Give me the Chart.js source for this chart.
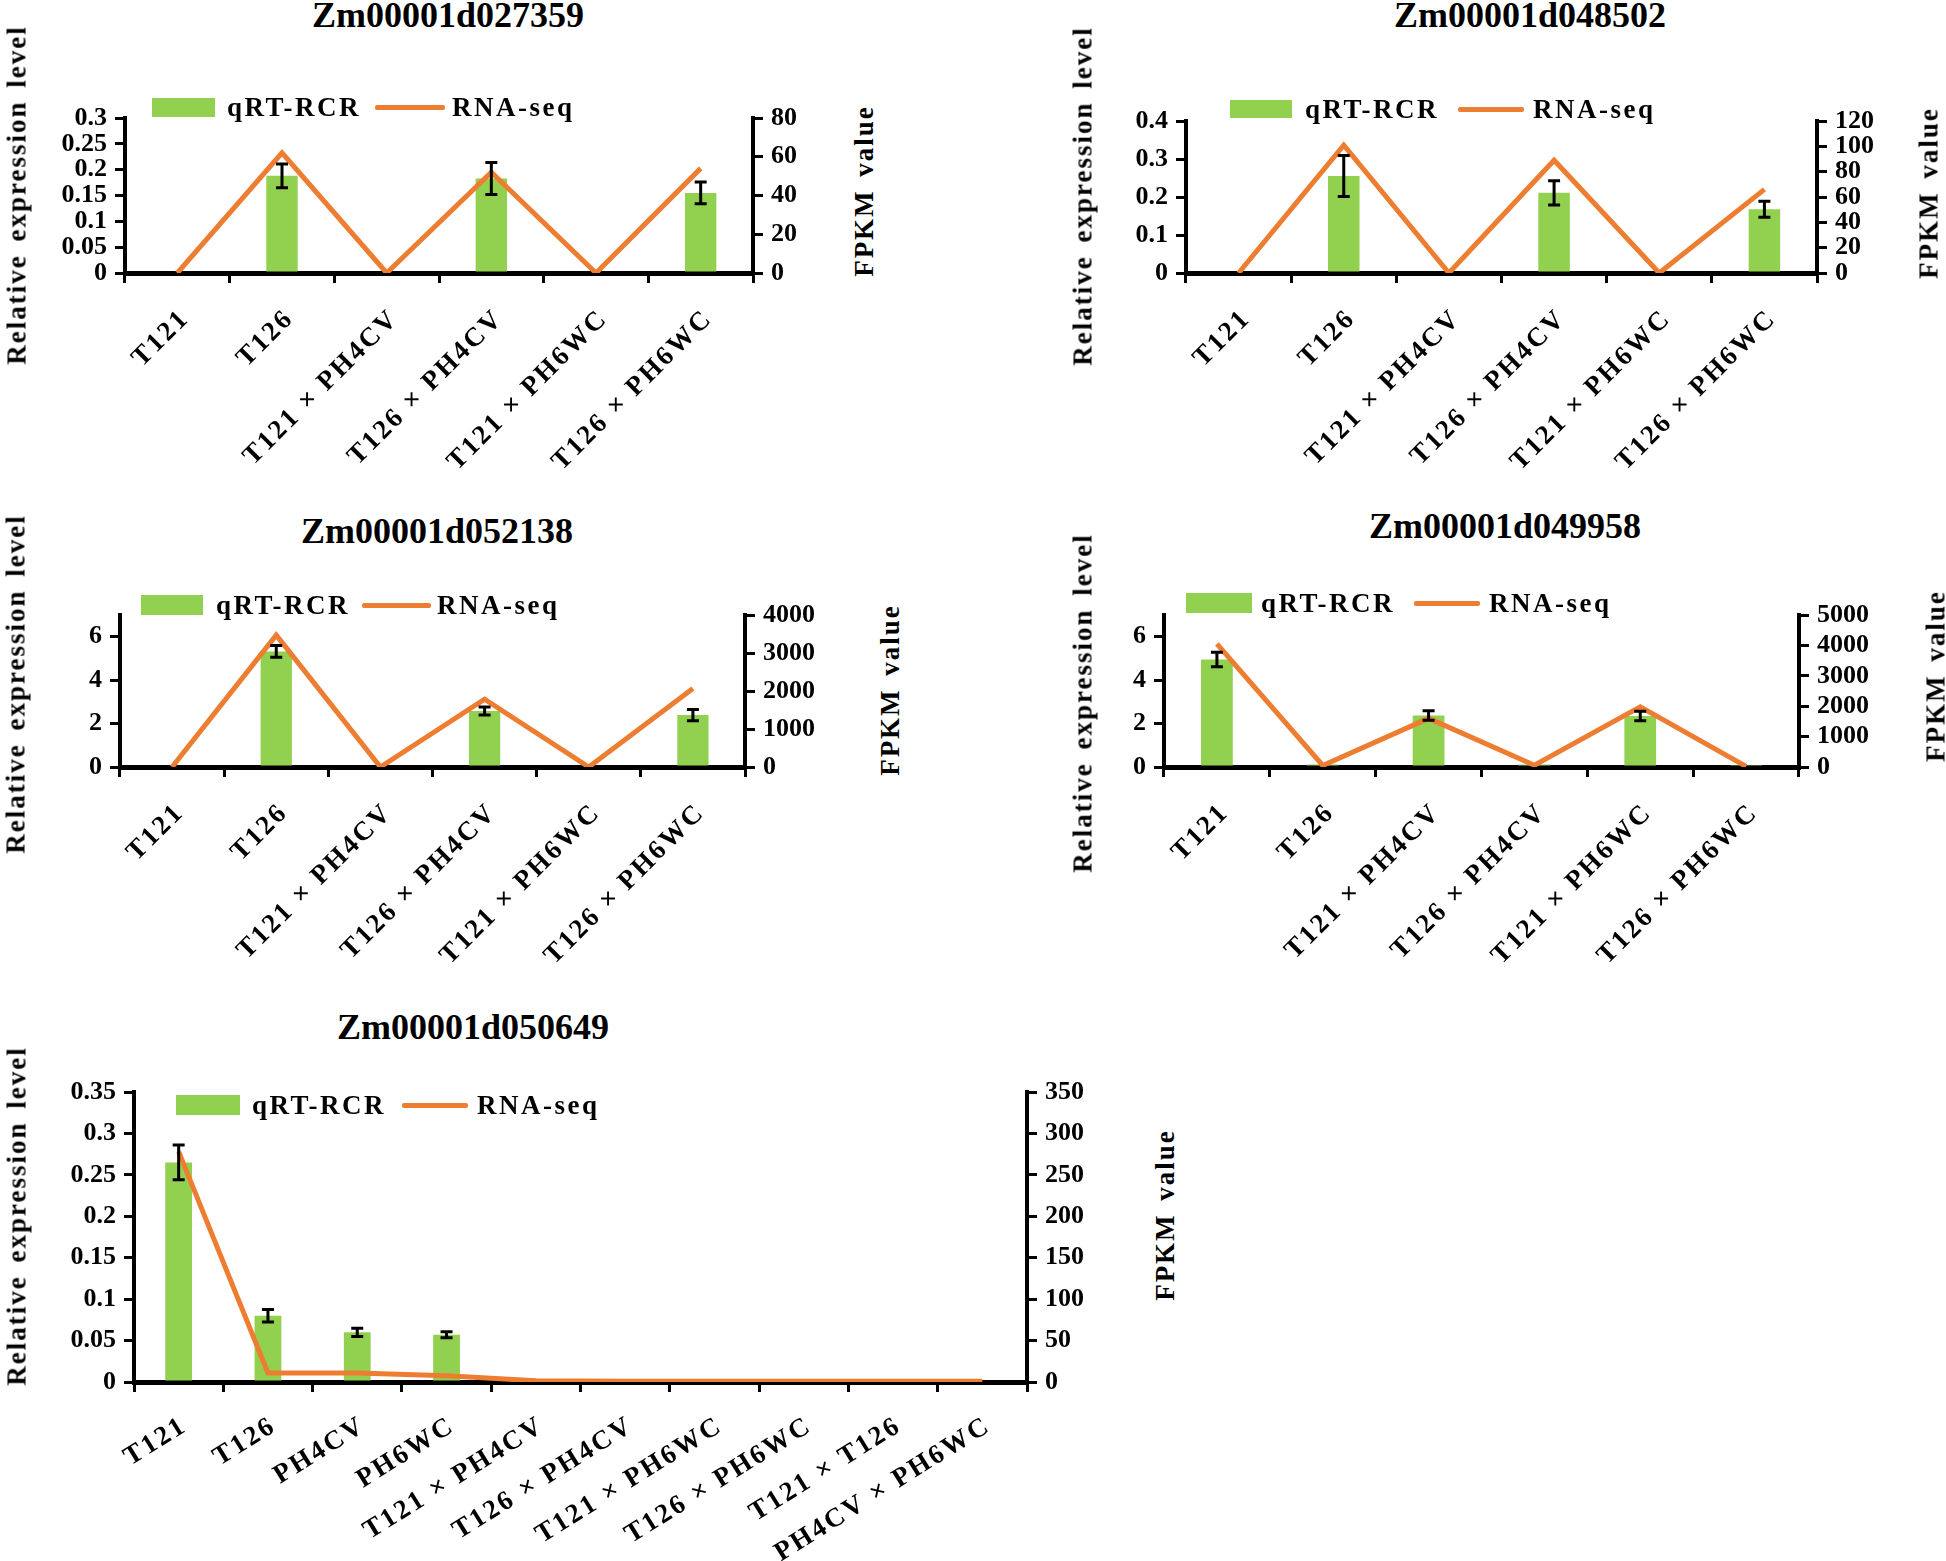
<!DOCTYPE html>
<html>
<head>
<meta charset="utf-8">
<title>qRT-PCR vs RNA-seq</title>
<script src="https://cdn.jsdelivr.net/npm/chart.js@4.4.1/dist/chart.umd.min.js"></script>
<style>
    html, body { margin: 0; padding: 0; background: #fff; }
    #page { position: relative; width: 1946px; height: 1561px; overflow: hidden; font-family: 'Liberation Serif', 'Times New Roman', serif; color: #000; }
    #page canvas { position: absolute; }
    .txt { position: absolute; white-space: nowrap; font-weight: bold; line-height: 1; }
    .title { font-size: 36px; transform: translate(-50%, -50%); }
    .ytitle { font-size: 27px; letter-spacing: 2px; word-spacing: 4px; transform: translate(-50%, -50%) rotate(-90deg); }
    .leg { font-size: 27px; letter-spacing: 2.5px; transform: translateY(-50%); }
    .legbox { position: absolute; background: #92D050; }
    .legline { position: absolute; height: 5px; background: #ED7D31; border-radius: 2px; }
</style>
</head>
<body>
<div id="page"></div>
<script>
// 基因名与样品
const genes = ['Zm00001d027359', 'Zm00001d048502', 'Zm00001d052138', 'Zm00001d049958', 'Zm00001d050649'];
const cats6 = ['T121', 'T126', 'T121 × PH4CV', 'T126 × PH4CV', 'T121 × PH6WC', 'T126 × PH6WC'];
const cats10 = ['T121', 'T126', 'PH4CV', 'PH6WC', 'T121 × PH4CV', 'T126 × PH4CV', 'T121 × PH6WC', 'T126 × PH6WC', 'T121 × T126', 'PH4CV × PH6WC'];

// qRT-RCR 相对表达量 (左轴) 及误差, RNA-seq FPKM (右轴)
const qrt1 = [0, 0.188, 0, 0.183, 0, 0.155];
const sd1 = [0, 0.023, 0, 0.031, 0, 0.021];
const fpkm1 = [0, 62, 0, 52, 0, 54];

const qrt2 = [0, 0.255, 0, 0.211, 0, 0.168];
const sd2 = [0, 0.054, 0, 0.032, 0, 0.021];
const fpkm2 = [0, 101, 0, 89, 0, 66];

const qrt3 = [0, 5.32, 0, 2.58, 0, 2.39];
const sd3 = [0, 0.27, 0, 0.18, 0, 0.26];
const fpkm3 = [0, 3470, 0, 1785, 0, 2066];

const qrt4 = [4.95, 0.12, 2.37, 0.12, 2.35, 0.05];
const sd4 = [0.33, 0, 0.22, 0, 0.22, 0];
const fpkm4 = [4050, 50, 1600, 60, 1980, 20];

const qrt5 = [0.265, 0.080, 0.060, 0.057, 0, 0, 0, 0, 0, 0];
const sd5 = [0.021, 0.0075, 0.005, 0.0035, 0, 0, 0, 0, 0, 0];
const fpkm5 = [278, 11, 11, 7.5, 1.5, 1, 1, 1, 1, 1];

// 坐标轴刻度
const leftMax = [0.3, 0.4, 7, 7, 0.35];
const leftStep = [0.05, 0.1, 2, 2, 0.05];
const rightMax = [80, 120, 4000, 5000, 350];
const rightStep = [20, 20, 1000, 1000, 50];

// 各子图的画布位置与绘图区 (页面像素)
const layouts = [
    { canvas: [0, 80, 840, 410], area: [125, 118, 753, 273], rot: 45, pad: 20, shift: 8, title: [448, 15], yTitle: [17, 195], rTitle: [864, 191],
      legend: { box: [152, 98, 63, 19], t1: 227, line: [375, 445], t2: 452, y: 107 } },
    { canvas: [1060, 80, 886, 410], area: [1186, 121, 1817, 273], rot: 45, pad: 20, shift: 8, title: [1530, 15], yTitle: [1083, 196], rTitle: [1929, 193],
      legend: { box: [1230, 100, 62, 18], t1: 1305, line: [1458, 1524], t2: 1533, y: 109 } },
    { canvas: [0, 580, 840, 420], area: [120, 615, 745, 767], rot: 45, pad: 20, shift: 8, title: [437, 531], yTitle: [16, 684], rTitle: [890, 690],
      legend: { box: [141, 595, 62, 20], t1: 216, line: [362, 431], t2: 437, y: 605 } },
    { canvas: [1060, 580, 886, 420], area: [1164, 615, 1799, 767], rot: 45, pad: 20, shift: 8, title: [1505, 526], yTitle: [1083, 703], rTitle: [1936, 676],
      legend: { box: [1186, 593, 66, 20], t1: 1261, line: [1414, 1480], t2: 1489, y: 603 } },
    { canvas: [0, 1060, 1120, 501], area: [134, 1092, 1027, 1382], rot: 32, pad: 18, shift: 6, title: [473, 1027], yTitle: [17, 1216], rTitle: [1165, 1215],
      legend: { box: [176, 1095, 64, 20], t1: 252, line: [402, 468], t2: 477, y: 1105 } }
];

const page = document.getElementById('page');
const FAMILY = "'Liberation Serif', 'Times New Roman', serif";

// 误差线插件; x 轴标签 (ticks.z = 1) 在数据之后绘制, 加字距
const errorBarPlugin = {
    id: 'errorBars',
    afterDatasetsDraw(chart) {
        const idx = chart.data.datasets.findIndex(d => d.type === 'bar');
        const ds = chart.data.datasets[idx];
        const meta = chart.getDatasetMeta(idx);
        const ys = chart.scales.y;
        const ctx = chart.ctx;
        ctx.save();
        ctx.strokeStyle = '#000';
        ctx.lineWidth = 3;
        meta.data.forEach((bar, j) => {
            const e = ds.errors[j];
            if (!e) return;
            const top = ys.getPixelForValue(ds.data[j] + e);
            const bot = ys.getPixelForValue(ds.data[j] - e);
            ctx.beginPath();
            ctx.moveTo(bar.x, top); ctx.lineTo(bar.x, bot);
            ctx.moveTo(bar.x - 6, top); ctx.lineTo(bar.x + 6, top);
            ctx.moveTo(bar.x - 6, bot); ctx.lineTo(bar.x + 6, bot);
            ctx.stroke();
        });
        ctx.restore();
        ctx.letterSpacing = '2.5px';
    },
    afterDraw(chart) {
        chart.ctx.letterSpacing = '0px';
    }
};

function addText(cls, text, x, y) {
    const d = document.createElement('div');
    d.className = 'txt ' + cls;
    d.textContent = text;
    d.style.left = x + 'px';
    d.style.top = y + 'px';
    page.appendChild(d);
}

function addLegend(lg) {
    const box = document.createElement('div');
    box.className = 'legbox';
    box.style.left = lg.box[0] + 'px'; box.style.top = lg.box[1] + 'px';
    box.style.width = lg.box[2] + 'px'; box.style.height = lg.box[3] + 'px';
    page.appendChild(box);
    addText('leg', 'qRT-RCR', lg.t1, lg.y);
    const line = document.createElement('div');
    line.className = 'legline';
    line.style.left = lg.line[0] + 'px'; line.style.top = (lg.y - 2.5) + 'px';
    line.style.width = (lg.line[1] - lg.line[0]) + 'px';
    page.appendChild(line);
    addText('leg', 'RNA-seq', lg.t2, lg.y);
}

function fmt(v) { return String(+Number(v).toFixed(4)); }

function keepSteps(step) {
    return function(s) {
        s.ticks = s.ticks.filter(t => Math.abs(t.value / step - Math.round(t.value / step)) < 1e-6);
    };
}

function makePanel(i, cats, qrt, sd, fpkm) {
    const g = layouts[i];
    const [cl, ct, cw, ch] = g.canvas;
    const [L, T, R, B] = g.area;

    const canvas = document.createElement('canvas');
    canvas.width = cw; canvas.height = ch;
    canvas.style.left = cl + 'px'; canvas.style.top = ct + 'px';
    canvas.style.width = cw + 'px'; canvas.style.height = ch + 'px';
    page.appendChild(canvas);

    const tickFont = { family: FAMILY, size: 26, weight: 'bold' };
    const gridStyle = { drawOnChartArea: false, drawTicks: true, tickLength: 10, color: '#000', lineWidth: 3 };

    new Chart(canvas.getContext('2d'), {
        type: 'bar',
        data: {
            labels: cats,
            datasets: [
                { type: 'line', label: 'RNA-seq', data: fpkm, yAxisID: 'y1', borderColor: '#ED7D31', backgroundColor: '#ED7D31',
                  borderWidth: 5, pointRadius: 0, tension: 0, order: 0 },
                { type: 'bar', label: 'qRT-RCR', data: qrt, errors: sd, yAxisID: 'y', backgroundColor: '#92D050',
                  barPercentage: 0.3, categoryPercentage: 1, order: 1 }
            ]
        },
        options: {
            responsive: false,
            animation: false,
            devicePixelRatio: 1,
            layout: { padding: { top: T - ct, left: 0, right: 0, bottom: 0 } },
            plugins: { legend: { display: false }, tooltip: { enabled: false }, title: { display: false } },
            scales: {
                x: {
                    offset: true,
                    grid: Object.assign({ offset: true }, gridStyle),
                    border: { color: '#000', width: 5 },
                    ticks: { z: 1, color: '#000', font: { family: FAMILY, size: 27, weight: 'bold' }, minRotation: g.rot, maxRotation: g.rot,
                             autoSkip: false, padding: g.pad, labelOffset: g.shift },
                    afterFit: s => { s.height = ct + ch - B; }
                },
                y: {
                    position: 'left', min: 0, max: leftMax[i],
                    grid: gridStyle,
                    border: { color: '#000', width: 4 },
                    ticks: { stepSize: leftStep[i], autoSkip: false, color: '#000', font: tickFont, padding: 8, callback: fmt },
                    afterBuildTicks: keepSteps(leftStep[i]),
                    afterFit: s => { s.width = L - cl; }
                },
                y1: {
                    position: 'right', min: 0, max: rightMax[i],
                    grid: gridStyle,
                    border: { color: '#000', width: 4 },
                    ticks: { stepSize: rightStep[i], autoSkip: false, color: '#000', font: tickFont, padding: 8, callback: fmt },
                    afterBuildTicks: keepSteps(rightStep[i]),
                    afterFit: s => { s.width = cl + cw - R; }
                }
            }
        },
        plugins: [errorBarPlugin]
    });

    // 标题, 坐标轴标题, 图例
    addText('title', genes[i], g.title[0], g.title[1]);
    addText('ytitle', 'Relative expression level', g.yTitle[0], g.yTitle[1]);
    addText('ytitle', 'FPKM value', g.rTitle[0], g.rTitle[1]);
    addLegend(g.legend);
}

document.addEventListener('DOMContentLoaded', function() {
    makePanel(0, cats6, qrt1, sd1, fpkm1);
    makePanel(1, cats6, qrt2, sd2, fpkm2);
    makePanel(2, cats6, qrt3, sd3, fpkm3);
    makePanel(3, cats6, qrt4, sd4, fpkm4);
    makePanel(4, cats10, qrt5, sd5, fpkm5);
});
</script>
</body>
</html>
